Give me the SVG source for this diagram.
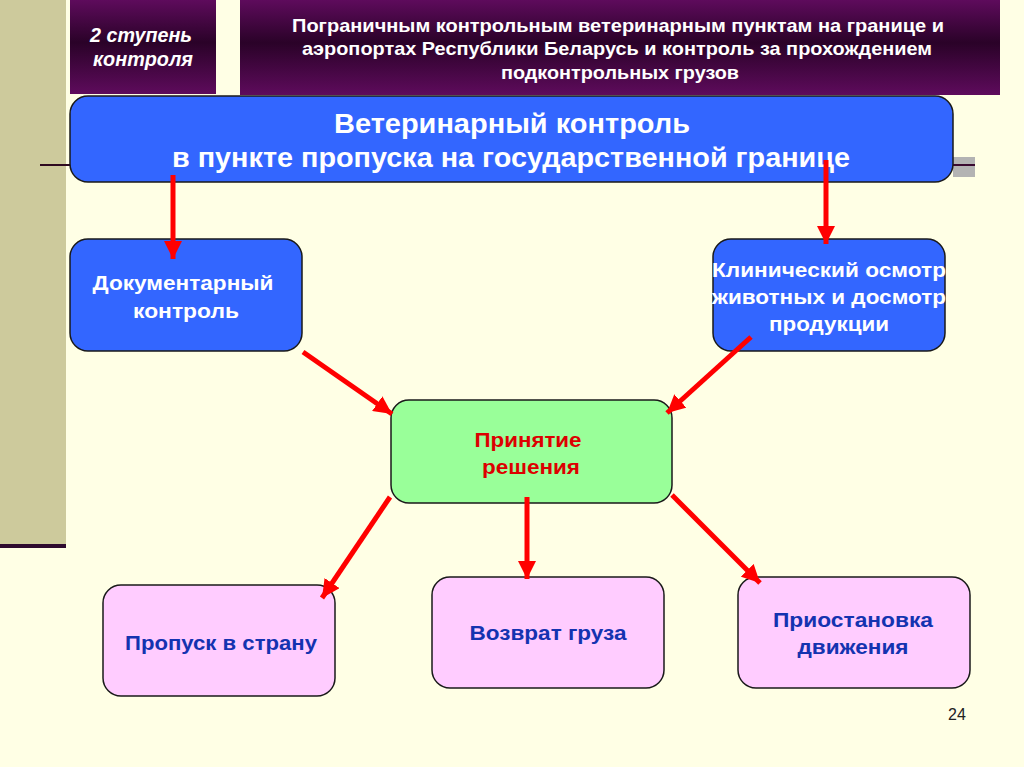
<svg xmlns="http://www.w3.org/2000/svg" width="1024" height="767" viewBox="0 0 1024 767">
<defs>
<linearGradient id="purp" x1="0" y1="0" x2="0" y2="1">
<stop offset="0" stop-color="#5e0b5c"/>
<stop offset="0.45" stop-color="#2a0228"/>
<stop offset="1" stop-color="#5e0b5c"/>
</linearGradient>
<marker id="ah" markerUnits="userSpaceOnUse" markerWidth="20" markerHeight="18" refX="18" refY="9" orient="auto">
<path d="M0,0 L18,9 L0,18 Z" fill="#ff0000"/>
</marker>
<style>
.box{stroke:#1a1a1a;stroke-width:1.5}
.blue{fill:#3366ff}
.pink{fill:#ffccff}
.green{fill:#99ff99}
.t{font-family:"Liberation Sans",Arial,sans-serif;font-weight:bold;text-anchor:middle}
.w{fill:#ffffff}
.arr{stroke:#ff0000;stroke-width:5;fill:none;marker-end:url(#ah)}
</style>
</defs>
<rect width="1024" height="767" fill="#ffffe5"/>
<rect x="0" y="0" width="66" height="548" fill="#cdca9c"/>
<rect x="0" y="544" width="66" height="4" fill="#2e0a2e"/>
<line x1="40" y1="165" x2="72" y2="165" stroke="#2e0a20" stroke-width="2"/>
<rect x="953" y="157" width="22" height="20" fill="#b3b3b3"/>
<line x1="953" y1="165" x2="975" y2="165" stroke="#3a0a30" stroke-width="2"/>

<g id="stage">
<rect x="70" y="0" width="146" height="94" fill="url(#purp)"/>
<text class="t w" font-style="italic" font-size="20" x="141" y="42" textLength="102" lengthAdjust="spacingAndGlyphs">2 ступень</text>
<text class="t w" font-style="italic" font-size="20" x="143" y="66" textLength="100" lengthAdjust="spacingAndGlyphs">контроля</text>
</g>
<g id="header">
<rect x="240" y="0" width="760" height="95" fill="url(#purp)"/>
<text class="t w" font-size="19" x="618" y="32" textLength="652" lengthAdjust="spacingAndGlyphs">Пограничным контрольным ветеринарным пунктам на границе и</text>
<text class="t w" font-size="19" x="617" y="55" textLength="630" lengthAdjust="spacingAndGlyphs">аэропортах Республики Беларусь и контроль за прохождением</text>
<text class="t w" font-size="19" x="620" y="79" textLength="238" lengthAdjust="spacingAndGlyphs">подконтрольных грузов</text>
</g>
<g id="main">
<rect class="box blue" x="70" y="96" width="883" height="86" rx="18"/>
<text class="t w" font-size="27" x="512" y="133" textLength="356" lengthAdjust="spacingAndGlyphs">Ветеринарный  контроль</text>
<text class="t w" font-size="27" x="511" y="167" textLength="678" lengthAdjust="spacingAndGlyphs">в пункте пропуска на государственной  границе</text>
</g>
<g id="doc">
<rect class="box blue" x="70" y="239" width="232" height="112" rx="18"/>
<text class="t w" font-size="21" x="183" y="290" textLength="181" lengthAdjust="spacingAndGlyphs">Документарный</text>
<text class="t w" font-size="21" x="186" y="318" textLength="106" lengthAdjust="spacingAndGlyphs">контроль</text>
</g>
<g id="clinic">
<rect class="box blue" x="713" y="239" width="232" height="112" rx="18"/>
<text class="t w" font-size="21" x="829" y="277" textLength="234" lengthAdjust="spacingAndGlyphs">Клинический осмотр</text>
<text class="t w" font-size="21" x="829" y="304" textLength="234" lengthAdjust="spacingAndGlyphs">животных и досмотр</text>
<text class="t w" font-size="21" x="829" y="331" textLength="120" lengthAdjust="spacingAndGlyphs">продукции</text>
</g>
<g id="decision">
<rect class="box green" x="391" y="400" width="281" height="103" rx="18"/>
<text class="t" fill="#dd0000" font-size="21" x="528" y="447" textLength="107" lengthAdjust="spacingAndGlyphs">Принятие</text>
<text class="t" fill="#dd0000" font-size="21" x="531" y="474" textLength="98" lengthAdjust="spacingAndGlyphs">решения</text>
</g>
<g id="pass">
<rect class="box pink" x="103" y="585" width="232" height="111" rx="18"/>
<text class="t" fill="#1433b0" font-size="21" x="221" y="650" textLength="192" lengthAdjust="spacingAndGlyphs">Пропуск в страну</text>
</g>
<g id="return">
<rect class="box pink" x="432" y="577" width="232" height="111" rx="18"/>
<text class="t" fill="#1433b0" font-size="21" x="548" y="640" textLength="157" lengthAdjust="spacingAndGlyphs">Возврат груза</text>
</g>
<g id="suspend">
<rect class="box pink" x="738" y="577" width="232" height="111" rx="18"/>
<text class="t" fill="#1433b0" font-size="21" x="853" y="627" textLength="160" lengthAdjust="spacingAndGlyphs">Приостановка</text>
<text class="t" fill="#1433b0" font-size="21" x="853" y="654" textLength="111" lengthAdjust="spacingAndGlyphs">движения</text>
</g>
<g id="connectors">
<line class="arr" x1="173" y1="175" x2="173" y2="259"/>
<line class="arr" x1="826" y1="160" x2="826" y2="244"/>
<line class="arr" x1="303" y1="352" x2="392" y2="414"/>
<line class="arr" x1="751" y1="337" x2="667" y2="413"/>
<line class="arr" x1="390" y1="497" x2="322" y2="598"/>
<line class="arr" x1="527" y1="497" x2="527" y2="579"/>
<line class="arr" x1="672" y1="495" x2="760" y2="583"/>
</g>
<text x="957" y="720" font-family="Liberation Sans,Arial,sans-serif" font-size="16" fill="#222" text-anchor="middle">24</text>
</svg>
